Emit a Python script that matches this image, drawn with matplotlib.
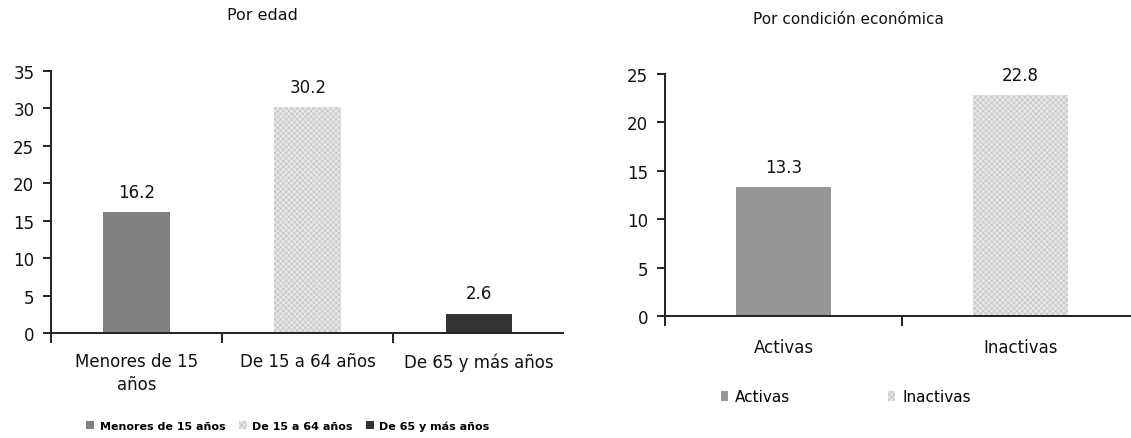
import matplotlib
matplotlib.use("Agg")
import matplotlib.pyplot as plt
from matplotlib.patches import Patch

# Data
edad_labels = ["Menores de 15\naños", "De 15 a 64 años", "De 65 y más años"]
edad_legend = ["Menores de 15 años", "De 15 a 64 años", "De 65 y más años"]
edad_values = [16.2, 30.2, 2.6]
edad_yticks = [0, 5, 10, 15, 20, 25, 30, 35]

cond_labels = ["Activas", "Inactivas"]
cond_values = [13.3, 22.8]
cond_yticks = [0, 5, 10, 15, 20, 25]

# Fill styles
SOLID_MID = dict(facecolor="#808080", edgecolor="none", linewidth=0)
SOLID_LIGHT = dict(facecolor="#969696", edgecolor="none", linewidth=0)
DOTTED = dict(facecolor="#e6e6e6", edgecolor="#c2c2c2", hatch="xxxxxx", linewidth=0)
SOLID_DARK = dict(facecolor="#333333", edgecolor="none", linewidth=0)

plt.rcParams["font.family"] = ["DejaVu Sans"]
plt.rcParams["hatch.linewidth"] = 0.5

W, H = 1131, 439
fig = plt.figure(figsize=(W / 100, H / 100), dpi=100)


def style_axes(ax, n, xmax, yticks, labels, pad):
    for s in ("top", "right"):
        ax.spines[s].set_visible(False)
    for s in ("left", "bottom"):
        ax.spines[s].set_linewidth(1.4)
        ax.spines[s].set_color("#222222")
    ax.set_xlim(-0.5, xmax)
    ax.set_ylim(0, yticks[-1])
    ax.set_yticks(yticks)
    ax.set_xticks(range(n))
    ax.set_xticklabels(labels, fontsize=12, color="#111111", linespacing=1.3)
    ax.set_xticks([i - 0.5 for i in range(n)], minor=True)
    ax.tick_params(axis="x", which="major", length=0, pad=pad)
    ax.tick_params(axis="x", which="minor", length=7, width=1.4, color="#222222", direction="out")
    ax.tick_params(axis="y", length=6, width=1.4, color="#222222", labelsize=12, pad=6,
                   labelcolor="#111111")


# Left panel: by age
ax1 = fig.add_axes([51 / W, 1 - 334 / H, 512 / W, 262 / H])
style_axes(ax1, len(edad_values), 2.49, edad_yticks, edad_labels, pad=14)
styles1 = [SOLID_MID, DOTTED, SOLID_DARK]
for i, (v, st) in enumerate(zip(edad_values, styles1)):
    ax1.bar(i, v, width=0.39, **st)
    ax1.annotate(f"{v:.1f}", (i, v), xytext=(0, 8), textcoords="offset points",
                 ha="center", va="bottom", fontsize=12, color="#111111")

# Right panel: by economic condition
ax2 = fig.add_axes([665 / W, 1 - 317 / H, 466 / W, 242 / H])
style_axes(ax2, len(cond_values), 1.466, cond_yticks, cond_labels, pad=16)
styles2 = [SOLID_LIGHT, DOTTED]
for i, (v, st) in enumerate(zip(cond_values, styles2)):
    ax2.bar(i, v, width=0.40, **st)
    ax2.annotate(f"{v:.1f}", (i, v), xytext=(0, 8), textcoords="offset points",
                 ha="center", va="bottom", fontsize=12, color="#111111")

# Titles
fig.text(262 / W, 1 - 15 / H, "Por edad", ha="center", va="center", fontsize=11.5,
         color="#111111")
fig.text(848 / W, 1 - 19 / H, "Por condición económica", ha="center", va="center",
         fontsize=11, color="#111111")

# Legends
h1 = [Patch(**st) for st in styles1]
fig.legend(h1, edad_legend, ncol=3, loc="center", bbox_to_anchor=(288 / W, 1 - 427 / H),
           frameon=False, handlelength=0.7, handleheight=0.7, handletextpad=0.5,
           columnspacing=1.2, prop={"size": 8, "weight": "bold"}, borderpad=0, borderaxespad=0)
h2 = [Patch(**st) for st in styles2]
fig.legend(h2, cond_labels, ncol=2, loc="center", bbox_to_anchor=(846 / W, 1 - 398 / H),
           frameon=False, handlelength=0.45, handleheight=0.6, handletextpad=0.5,
           columnspacing=6.4, prop={"size": 11}, borderpad=0, borderaxespad=0)

fig.savefig("out.png", dpi=100)
